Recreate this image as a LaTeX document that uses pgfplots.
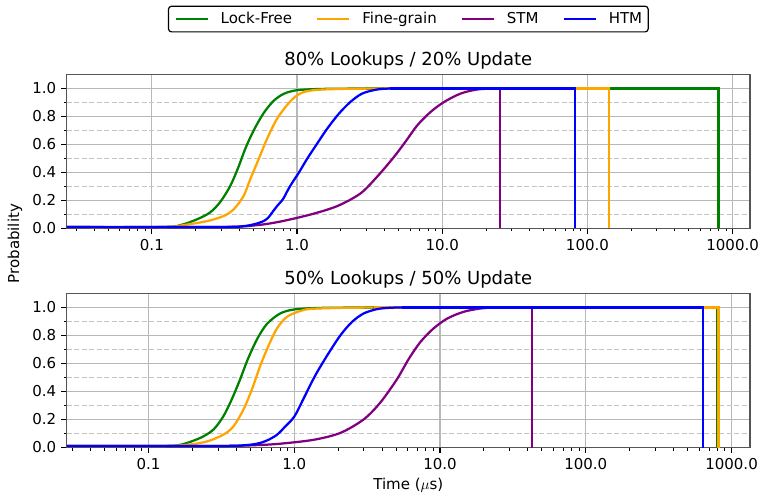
\documentclass[border=0pt]{standalone}
\usepackage{fontspec}
\setmainfont{DejaVu Sans}
\usepackage{pgfplots}
\pgfplotsset{compat=1.18}
\definecolor{LF}{RGB}{0,128,0}
\definecolor{FG}{RGB}{255,165,0}
\definecolor{STM}{RGB}{128,0,128}
\definecolor{HTM}{RGB}{0,0,255}
\definecolor{gridgray}{RGB}{184,184,184}
\definecolor{mgridgray}{RGB}{196,196,196}
\definecolor{spine}{RGB}{85,85,85}
\pgfplotsset{mycdfstyle/.style={
  width=455.5pt, height=102.667pt, scale only axis,
  ymin=0, ymax=1.1,
  xtick={0.1,1,10,100,1000}, xticklabels={0.1,1.0,10.0,100.0,1000.0},
  minor xtick={0.03,0.04,0.05,0.06,0.07,0.08,0.09,0.2,0.3,0.4,0.5,0.6,0.7,0.8,0.9,2,3,4,5,6,7,8,9,20,30,40,50,60,70,80,90,200,300,400,500,600,700,800,900},
  ytick={0,0.2,0.4,0.6,0.8,1.0}, yticklabels={0.0,0.2,0.4,0.6,0.8,1.0},
  minor ytick={0.1,0.3,0.5,0.7,0.9},
  tick pos=left, tick align=outside, major tick length=3.5pt, minor tick length=2pt,
  xmajorgrids, ymajorgrids, yminorgrids,
  major grid style={color=gridgray, line width=0.8pt},
  minor grid style={color=mgridgray, line width=0.8pt, dash pattern=on 3.2pt off 1.8pt},
  axis line style={color=spine, line width=0.8pt},
  every tick/.style={black, line width=0.8pt},
  every minor tick/.style={black, line width=0.6pt},
  tick label style={font=\fontsize{10}{12}\selectfont},
  title style={font=\fontsize{12}{14.4}\selectfont, anchor=base, inner sep=0pt},
  label style={font=\fontsize{10}{12}\selectfont},
  every axis plot/.append style={line width=1.5pt},
}}
\begin{document}
\begin{tikzpicture}
\useasboundingbox (0,0) rectangle (506pt,328.67pt);
\begin{axis}[xmode=log, mycdfstyle, at={(44.47pt,176.333pt)}, anchor=south west,
  xmin=0.0259, xmax=1316,
  title={80\% Lookups / 20\% Update},
  ylabel={Probability},
  ylabel style={at={(axis description cs:-0.0757,-0.098)}, anchor=center},
  legend columns=4,
  legend style={at={(0.5,1.36)}, anchor=center, draw=black, line width=0.8pt, rounded corners=2pt,
    fill=white, font=\fontsize{10}{12}\selectfont,
    /tikz/every even column/.append style={column sep=16pt},
    inner xsep=4pt, inner ysep=1.5pt, nodes={inner xsep=0pt, inner ysep=2.5pt}},
  legend image code/.code={\draw[#1, line width=1.5pt, rounded corners=0pt] (0pt,0pt) -- (21.3pt,0pt);},
]
\addplot[LF, smooth] coordinates {(0.0259,0.01) (0.12,0.011) (0.157,0.024) (0.204,0.065) (0.252,0.115) (0.296,0.19) (0.347,0.305) (0.395,0.44) (0.44,0.57) (0.502,0.70) (0.589,0.825) (0.69,0.912) (0.81,0.962) (1.0,0.988) (1.5,0.997) (3,1.0)};
\addlegendentry{\hspace*{8pt}Lock-Free}
\addplot[LF, forget plot] coordinates {(3,1.0) (800,1.0) (800,0)};
\addplot[FG, smooth] coordinates {(0.0259,0.01) (0.12,0.011) (0.165,0.024) (0.24,0.053) (0.312,0.089) (0.366,0.137) (0.428,0.232) (0.476,0.352) (0.544,0.496) (0.621,0.64) (0.728,0.784) (0.89,0.904) (1.05,0.964) (1.3,0.988) (2,0.997) (4,1.0)};
\addlegendentry{\hspace*{8pt}Fine-grain}
\addplot[FG, forget plot] coordinates {(4,1.0) (141,1.0) (141,0)};
\addplot[STM, smooth] coordinates {(0.0259,0.01) (0.3,0.011) (0.53,0.024) (0.77,0.05) (1.24,0.10) (1.89,0.16) (2.73,0.25) (3.56,0.37) (4.64,0.51) (5.58,0.62) (6.72,0.736) (8.3,0.832) (10.3,0.904) (13.4,0.964) (17.4,0.993) (22.7,1.0)};
\addlegendentry{\hspace*{8pt}STM}
\addplot[STM, forget plot] coordinates {(22.7,1.0) (24.9,1.0) (24.9,0)};
\addplot[HTM, smooth] coordinates {(0.0259,0.01) (0.3,0.011) (0.42,0.016) (0.50,0.029) (0.58,0.05) (0.63,0.075) (0.68,0.12) (0.728,0.16) (0.80,0.21) (0.87,0.28) (0.93,0.33) (1.03,0.40) (1.17,0.496) (1.37,0.604) (1.61,0.712) (1.94,0.82) (2.33,0.904) (2.81,0.964) (3.56,0.993) (4.4,1.0)};
\addlegendentry{\hspace*{8pt}HTM}
\addplot[HTM, forget plot] coordinates {(4.4,1.0) (82,1.0) (82,0)};
\end{axis}
\begin{axis}[xmode=log, mycdfstyle, at={(44.47pt,30.333pt)}, anchor=south west,
  xmin=0.0275, xmax=1337,
  title={50\% Lookups / 50\% Update},
  xlabel={Time ($\mu$s)},
  xlabel style={at={(axis description cs:0.5,-0.245)}, anchor=center},
]
\addplot[LF, smooth] coordinates {(0.0275,0.01) (0.12,0.011) (0.165,0.019) (0.226,0.068) (0.279,0.128) (0.327,0.224) (0.373,0.344) (0.426,0.488) (0.478,0.625) (0.555,0.772) (0.649,0.882) (0.80,0.957) (1.0,0.986) (1.5,0.997) (3,1.0)};
\addplot[LF] coordinates {(3,1.0) (800,1.0) (800,0)};
\addplot[FG, smooth] coordinates {(0.0275,0.01) (0.12,0.011) (0.184,0.019) (0.252,0.043) (0.327,0.092) (0.383,0.151) (0.449,0.272) (0.513,0.416) (0.585,0.584) (0.667,0.728) (0.76,0.849) (0.89,0.933) (1.1,0.975) (1.3,0.99) (2,0.997) (3.5,1.0)};
\addplot[FG] coordinates {(3.5,1.0) (815,1.0) (815,0)};
\addplot[STM, smooth] coordinates {(0.0275,0.01) (0.3,0.011) (0.55,0.017) (0.80,0.027) (1.36,0.055) (2.07,0.104) (2.99,0.20) (3.89,0.32) (5.07,0.488) (6.1,0.632) (7.33,0.753) (9.0,0.849) (11.2,0.921) (14.5,0.969) (18.9,0.993) (23.3,1.0)};
\addplot[STM] coordinates {(23.3,1.0) (43,1.0) (43,0)};
\addplot[HTM, smooth] coordinates {(0.0275,0.01) (0.3,0.011) (0.45,0.016) (0.555,0.027) (0.65,0.05) (0.76,0.09) (0.85,0.14) (1.0,0.22) (1.16,0.35) (1.39,0.512) (1.68,0.656) (2.07,0.80) (2.49,0.897) (2.99,0.957) (3.69,0.988) (4.5,0.998) (5.5,1.0)};
\addplot[HTM] coordinates {(5.5,1.0) (635,1.0) (635,0)};
\end{axis}
\end{tikzpicture}
\end{document}
